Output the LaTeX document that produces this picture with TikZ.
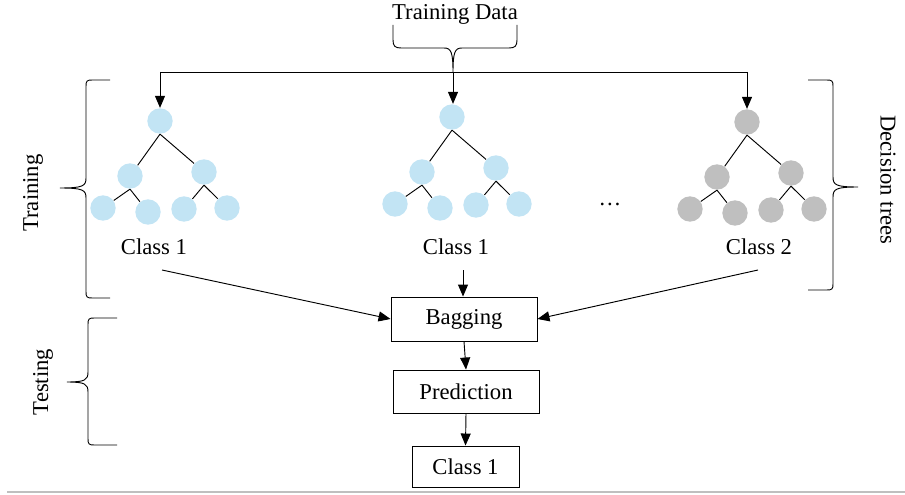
\documentclass[tikz,border=0pt]{standalone}
\usepackage{fontspec}
\setmainfont{Liberation Serif}
\usetikzlibrary{arrows.meta}
\definecolor{leafblue}{HTML}{C2E4F4}
\definecolor{leafgray}{HTML}{BFBFBF}
\begin{document}
\begin{tikzpicture}[x=0.75pt,y=-0.75pt,
  line width=0.7pt,
  font=\fontsize{17}{20}\selectfont,
  arr/.style={-{Triangle[length=9pt,width=7.5pt]}},
  treenode/.style={circle,fill=#1,minimum size=19pt,inner sep=0pt},
  box/.style={draw,rectangle,inner sep=0pt},
  brk/.style={line width=0.7pt},
  dtree/.pic={
    \node[treenode=#1] (-r)  at (0,0)   {};
    \node[treenode=#1] (-l)  at (-30,55) {};
    \node[treenode=#1] (-rr) at (44,51) {};
    \node[treenode=#1] (-a)  at (-57,87) {};
    \node[treenode=#1] (-b)  at (-12,91) {};
    \node[treenode=#1] (-c)  at (24,88) {};
    \node[treenode=#1] (-d)  at (67,87) {};
    \draw (-r.south) -- (-l);
    \draw (-r.south) -- (-rr);
    \draw (-l.south) -- (-a);
    \draw (-l.south) -- (-b);
    \draw (-rr.south) -- (-c);
    \draw (-rr.south) -- (-d);
  }]
\useasboundingbox (0,0) rectangle (905,495);

% title and its brace
\node (td) at (455,14) {Training Data};
\draw[brk] (393,25) -- (393,40) .. controls (393,46) and (395,48) .. (401,48)
  -- (444,48) .. controls (451,48) and (453,52) .. (453,72)
  .. controls (453,52) and (455,48) .. (462,48)
  -- (509,48) .. controls (515,48) and (517,46) .. (517,40) -- (517,25);

% the three trees
\pic (t1) at (160,121) {dtree=leafblue};
\pic (t2) at (452,117) {dtree=leafblue};
\pic (t3) at (747,122) {dtree=leafgray};
\node at (610,204) {\dots};

% distribution of the data to the trees
\coordinate (hl) at (160,72);
\coordinate (hr) at (747,72);
\coordinate (hm) at (453,72);
\draw (hl) -- (hr);
\draw[arr] (hl) -- (t1-r);
\draw[arr] (hm) -- (hm |- t2-r.north);
\draw[arr] (hr) -- (t3-r);

% class labels under the trees
\node (c1) at (154,247) {Class 1};
\node (c2) at (456,247) {Class 1};
\node (c3) at (759,247) {Class 2};
\coordinate (a1) at (162,270);
\coordinate (a2) at (463,270);
\coordinate (a3) at (758,270);

% testing pipeline
\node[box,minimum width=109.5pt,minimum height=33pt] (bag) at (464,319) {Bagging};
\node[box,minimum width=109.5pt,minimum height=32.25pt] (pred) at (466,391.5) {Prediction};
\node[box,minimum width=80.25pt,minimum height=30.75pt] (cls) at (465.5,466.5) {Class 1};
\draw[arr] (a1) -- (bag.west);
\draw[arr] (a3) -- (bag.east);
\draw[arr] (a2) -- (a2 |- bag.north);
\draw[arr] (bag.south) -- (pred.north);
\draw[arr] (pred.south) -- (cls.north);

% braces and side labels
\draw[brk] (110,80) -- (92,80) .. controls (87,80) and (86,81) .. (86,86)
  -- (86,178) .. controls (86,186) and (83,188) .. (60,188)
  .. controls (83,188) and (86,190) .. (86,198)
  -- (86,292) .. controls (86,297) and (87,298) .. (92,298) -- (110,298);
\node[rotate=90] (trn) at (33,193) {Training};

\draw[brk] (117,318) -- (94,318) .. controls (89,318) and (88,319) .. (88,324)
  -- (88,372) .. controls (88,380) and (85,382) .. (67,382)
  .. controls (85,382) and (88,384) .. (88,392)
  -- (88,439) .. controls (88,444) and (89,445) .. (94,445) -- (117,445);
\node[rotate=90] (tst) at (43,382) {Testing};

\draw[brk] (808,80) -- (827,80) .. controls (832,80) and (833,81) .. (833,86)
  -- (833,177) .. controls (833,185) and (836,187) .. (858,187)
  .. controls (836,187) and (833,189) .. (833,197)
  -- (833,284) .. controls (833,289) and (832,290) .. (827,290) -- (808,290);
\node[rotate=-90] (dt) at (888,180) {Decision trees};

% rule along the bottom
\draw[leafgray,line width=1.1pt] (7,492) -- (905,492);
\end{tikzpicture}
\end{document}
